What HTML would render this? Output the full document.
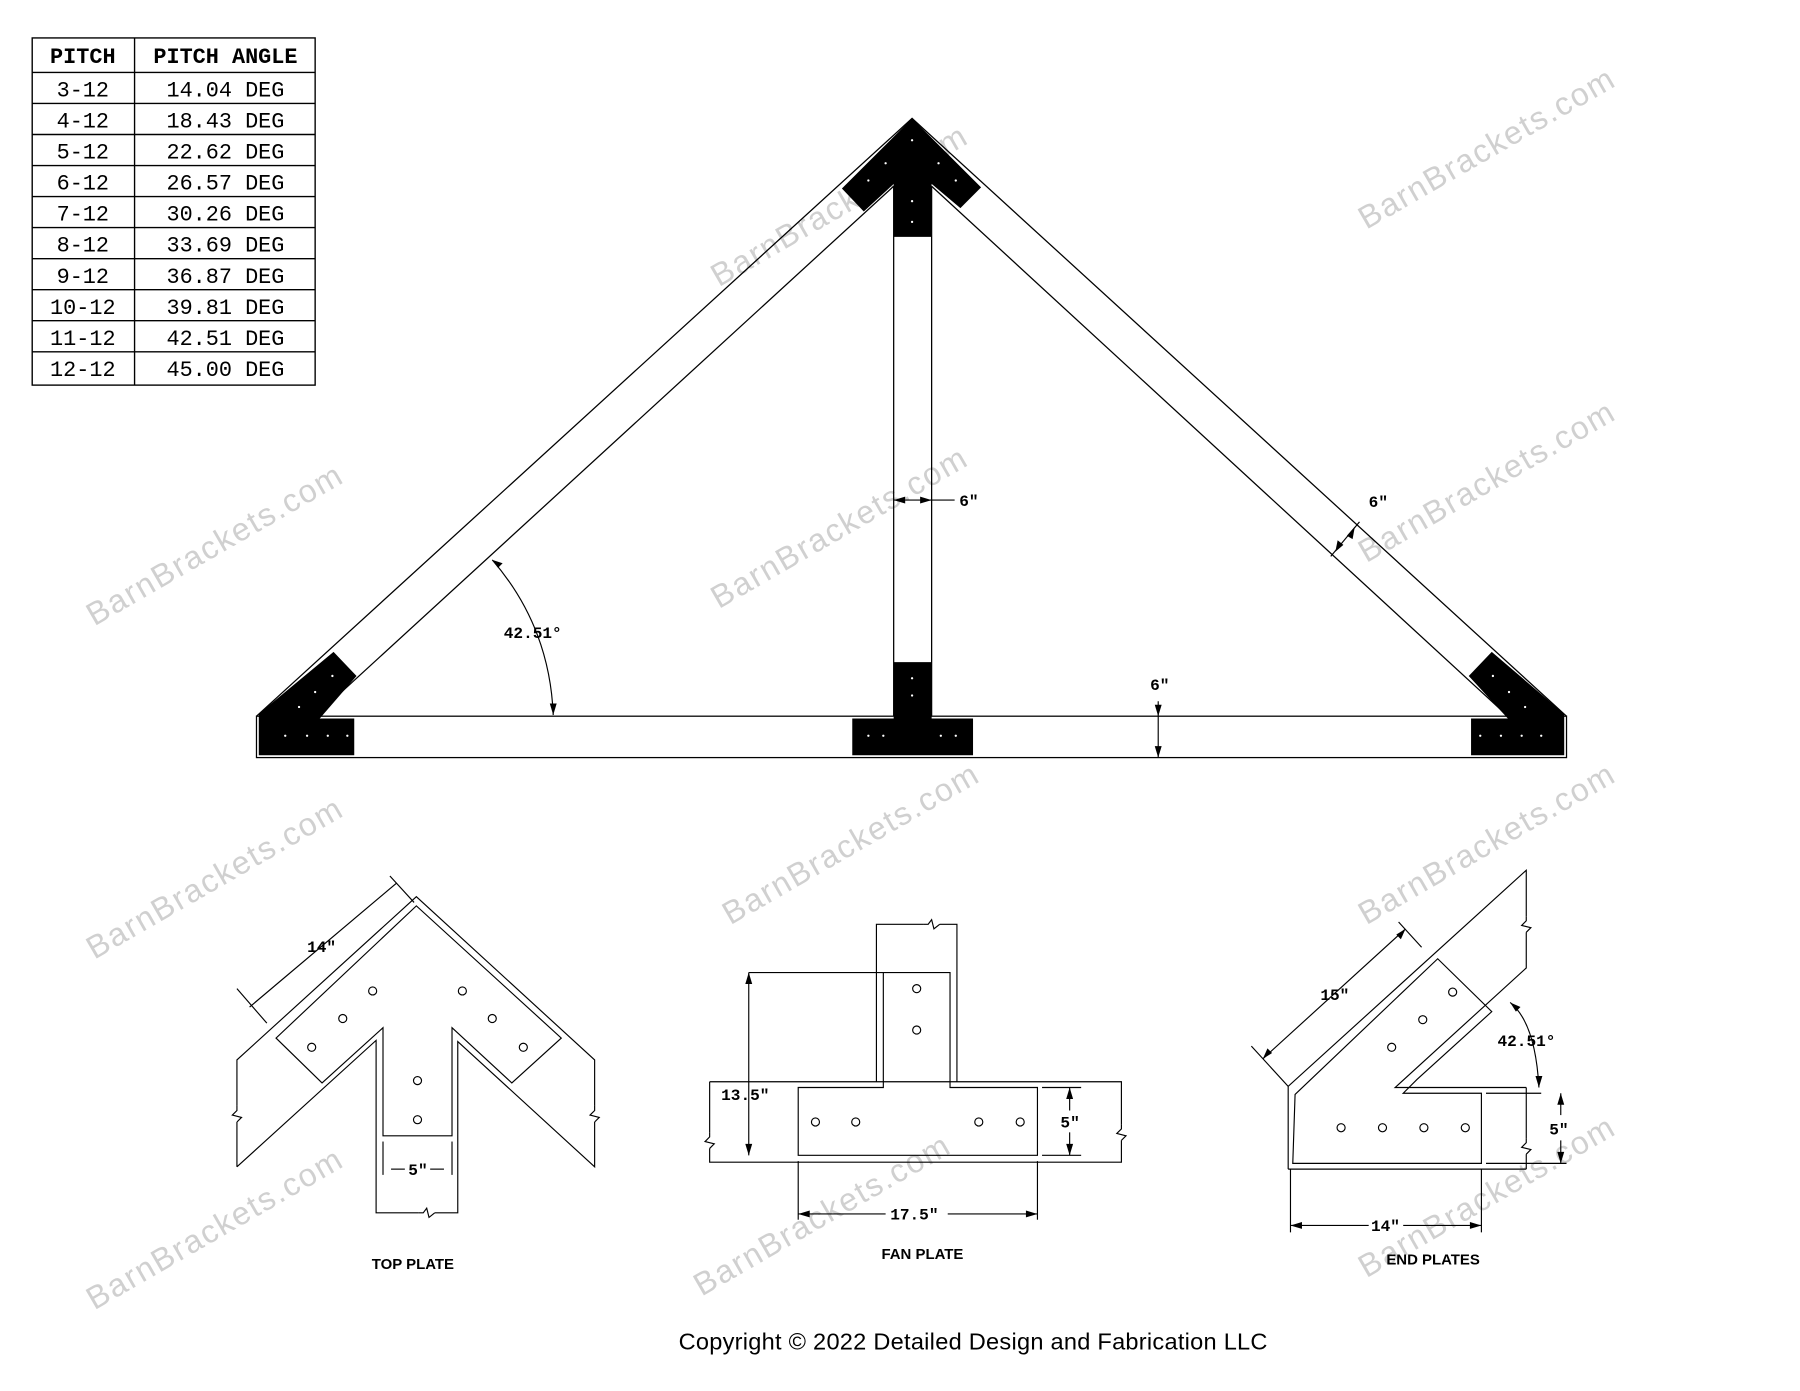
<!DOCTYPE html>
<html><head><meta charset="utf-8"><style>
html,body{margin:0;padding:0;background:#fff;width:1800px;height:1391px;overflow:hidden}
svg{display:block}
.t{font-family:"Liberation Sans",sans-serif;font-weight:bold;fill:#000}
.m{font-family:"Liberation Mono",monospace;fill:#000}
.w{font-family:"Liberation Sans",sans-serif;font-size:28px;fill:#d0d0d0;letter-spacing:1.5px}
</style></head><body>
<svg width="1800" height="1391" viewBox="0 0 1565 1210" preserveAspectRatio="none" xmlns="http://www.w3.org/2000/svg">
<rect width="1565" height="1210" fill="#fff"/>
<!-- watermarks -->
<g class="w">
<text transform="translate(82,545) rotate(-30)">BarnBrackets.com</text>
<text transform="translate(625,250) rotate(-30)">BarnBrackets.com</text>
<text transform="translate(1188,200) rotate(-30)">BarnBrackets.com</text>
<text transform="translate(625,530) rotate(-30)">BarnBrackets.com</text>
<text transform="translate(1188,490) rotate(-30)">BarnBrackets.com</text>
<text transform="translate(82,835) rotate(-30)">BarnBrackets.com</text>
<text transform="translate(635,805) rotate(-30)">BarnBrackets.com</text>
<text transform="translate(1188,805) rotate(-30)">BarnBrackets.com</text>
<text transform="translate(82,1140) rotate(-30)">BarnBrackets.com</text>
<text transform="translate(610,1128) rotate(-30)">BarnBrackets.com</text>
<text transform="translate(1188,1112) rotate(-30)">BarnBrackets.com</text>
</g>
<!-- table -->
<g stroke="#000" stroke-width="1.2" fill="none">
<rect x="28" y="33" width="246" height="302"/>
<line x1="117" y1="33" x2="117" y2="335"/>
<line x1="28" y1="63" x2="274" y2="63"/>
<line x1="28" y1="90" x2="274" y2="90"/><line x1="28" y1="117" x2="274" y2="117"/>
<line x1="28" y1="144" x2="274" y2="144"/><line x1="28" y1="171" x2="274" y2="171"/>
<line x1="28" y1="198" x2="274" y2="198"/><line x1="28" y1="225" x2="274" y2="225"/>
<line x1="28" y1="252" x2="274" y2="252"/><line x1="28" y1="279" x2="274" y2="279"/>
<line x1="28" y1="306" x2="274" y2="306"/>
</g>
<g class="m" font-size="19" text-anchor="middle">
<text x="72" y="55" font-weight="bold">PITCH</text><text x="196" y="55" font-weight="bold">PITCH ANGLE</text>
<text x="72" y="84">3-12</text><text x="196" y="84">14.04 DEG</text>
<text x="72" y="111">4-12</text><text x="196" y="111">18.43 DEG</text>
<text x="72" y="138">5-12</text><text x="196" y="138">22.62 DEG</text>
<text x="72" y="165">6-12</text><text x="196" y="165">26.57 DEG</text>
<text x="72" y="192">7-12</text><text x="196" y="192">30.26 DEG</text>
<text x="72" y="219">8-12</text><text x="196" y="219">33.69 DEG</text>
<text x="72" y="246">9-12</text><text x="196" y="246">36.87 DEG</text>
<text x="72" y="273">10-12</text><text x="196" y="273">39.81 DEG</text>
<text x="72" y="300">11-12</text><text x="196" y="300">42.51 DEG</text>
<text x="72" y="327">12-12</text><text x="196" y="327">45.00 DEG</text>
</g>
<!-- main truss -->
<g stroke="#000" stroke-width="1.1" fill="none">
<polyline points="223,623 793,103 1362,623"/>
<polyline points="274,623 777,162"/>
<polyline points="1311,623 810,162"/>
<line x1="777" y1="162" x2="777" y2="623"/>
<line x1="810" y1="162" x2="810" y2="623"/>
<rect x="223" y="623" width="1139" height="36"/>
</g>
<g fill="#000">
<polygon points="793,103 853,163 835,181 810,160 810,206 777,206 777,160 751,184 732,164"/>
<polygon points="225,621 290,567 310,588 278,625 308,625 308,657 225,657"/>
<polygon points="1360,621 1297,567 1277,588 1311,625 1279,625 1279,657 1360,657"/>
<polygon points="777,576 810,576 810,625 846,625 846,657 741,657 741,625 777,625"/>
</g>
<g fill="#fff">
<circle cx="793" cy="122" r="1"/><circle cx="770" cy="142" r="1"/><circle cx="755" cy="157" r="1"/><circle cx="816" cy="142" r="1"/><circle cx="831" cy="157" r="1"/><circle cx="793" cy="175" r="1"/><circle cx="793" cy="193" r="1"/>
<circle cx="289" cy="588" r="1"/><circle cx="274" cy="602" r="1"/><circle cx="260" cy="615" r="1"/><circle cx="248" cy="640" r="1"/><circle cx="267" cy="640" r="1"/><circle cx="285" cy="640" r="1"/><circle cx="302" cy="640" r="1"/>
<circle cx="1298" cy="588" r="1"/><circle cx="1312" cy="602" r="1"/><circle cx="1326" cy="615" r="1"/><circle cx="1287" cy="640" r="1"/><circle cx="1305" cy="640" r="1"/><circle cx="1323" cy="640" r="1"/><circle cx="1340" cy="640" r="1"/>
<circle cx="793" cy="590" r="1"/><circle cx="793" cy="605" r="1"/><circle cx="755" cy="640" r="1"/><circle cx="768" cy="640" r="1"/><circle cx="818" cy="640" r="1"/><circle cx="831" cy="640" r="1"/>
</g>
<!-- main dims -->
<g stroke="#000" stroke-width="1" fill="none">
<line x1="777" y1="435" x2="830" y2="435"/>
<line x1="1157" y1="484" x2="1182" y2="454"/>
<path d="M428,487 Q478,545 481,622"/>
<line x1="1007" y1="610" x2="1007" y2="659"/>
</g>
<g fill="#000">
<polygon points="810,435 800,432 800,438"/><polygon points="777,435 787,432 787,438"/>
<polygon points="428,487 437,490 433,494"/><polygon points="481,622 478,612 484,612"/>
<polygon points="1007,623 1004,613 1010,613"/><polygon points="1007,659 1004,649 1010,649"/>
<polygon points="1161,480 1163,470 1168,474"/><polygon points="1178,458 1171,466 1176,469"/>
</g>
<g class="m" font-size="14" font-weight="bold">
<text x="834" y="440">6″</text>
<text x="1190" y="441">6″</text>
<text x="438" y="555">42.51°</text>
<text x="1000" y="600">6″</text>
</g>
<!-- TOP PLATE -->
<g stroke="#000" stroke-width="1" fill="none">
<polyline points="206,1015 206,922 362,780 517,922 517,1015 398,906 398,1055 327,1055 327,905 206,1015"/>
<polygon points="362,788 488,903 445,942 393,894 393,988 333,988 333,894 280,942 240,903"/>
<polyline points="217,876 345,768"/>
<line x1="206" y1="860" x2="232" y2="890"/>
<line x1="339" y1="762" x2="360" y2="785"/>
<line x1="333" y1="993" x2="333" y2="1022"/><line x1="393" y1="993" x2="393" y2="1022"/>
<line x1="340" y1="1017" x2="352" y2="1017"/><line x1="374" y1="1017" x2="386" y2="1017"/>
<circle cx="324" cy="862" r="3.5"/><circle cx="402" cy="862" r="3.5"/><circle cx="298" cy="886" r="3.5"/><circle cx="428" cy="886" r="3.5"/><circle cx="271" cy="911" r="3.5"/><circle cx="455" cy="911" r="3.5"/><circle cx="363" cy="940" r="3.5"/><circle cx="363" cy="974" r="3.5"/>
</g>
<g fill="#fff"><rect x="200" y="962" width="12" height="14"/><rect x="511" y="962" width="12" height="14"/><rect x="364" y="1049" width="14" height="12"/></g>
<g stroke="#000" stroke-width="1" fill="none">
<polyline points="206,962 206,966 202,970 210,972 206,976"/>
<polyline points="517,962 517,966 513,970 521,972 517,976"/>
<polyline points="364,1055 368,1055 371,1051 373,1059 378,1055"/>
</g>
<g class="m" font-size="14" font-weight="bold">
<text transform="translate(267,828)">14″</text>
<text x="355" y="1022">5″</text>
</g>
<text class="t" x="359" y="1104" font-size="13" text-anchor="middle">TOP  PLATE</text>
<!-- FAN PLATE -->
<g stroke="#000" stroke-width="1" fill="none">
<polyline points="762,941 762,804 832,804 832,941"/>
<polyline points="617,941 975,941 975,1011 617,1011 617,941"/>
<polygon points="768,846 826,846 826,946 902,946 902,1005 694,1005 694,946 768,946"/>
<line x1="651" y1="846" x2="768" y2="846"/>
<line x1="651" y1="846" x2="651" y2="1005"/>
<line x1="906" y1="946" x2="940" y2="946"/><line x1="906" y1="1005" x2="940" y2="1005"/>
<line x1="930" y1="946" x2="930" y2="966"/><line x1="930" y1="985" x2="930" y2="1005"/>
<line x1="694" y1="1010" x2="694" y2="1061"/><line x1="902" y1="1010" x2="902" y2="1061"/>
<line x1="694" y1="1056" x2="770" y2="1056"/><line x1="824" y1="1056" x2="902" y2="1056"/>
<circle cx="797" cy="860" r="3.5"/><circle cx="797" cy="896" r="3.5"/><circle cx="709" cy="976" r="3.5"/><circle cx="744" cy="976" r="3.5"/><circle cx="851" cy="976" r="3.5"/><circle cx="887" cy="976" r="3.5"/>
</g>
<g fill="#fff"><rect x="803" y="798" width="14" height="12"/><rect x="611" y="985" width="12" height="14"/><rect x="969" y="978" width="12" height="14"/></g>
<g stroke="#000" stroke-width="1" fill="none">
<polyline points="803,804 807,804 810,800 812,808 817,804"/>
<polyline points="617,985 617,989 613,993 621,995 617,999"/>
<polyline points="975,978 975,982 971,986 979,988 975,992"/>
</g>
<g fill="#000">
<polygon points="651,846 648,856 654,856"/><polygon points="651,1005 648,995 654,995"/>
<polygon points="930,946 927,956 933,956"/><polygon points="930,1005 927,995 933,995"/>
<polygon points="694,1056 704,1053 704,1059"/><polygon points="902,1056 892,1053 892,1059"/>
</g>
<g class="m" font-size="14" font-weight="bold">
<text x="627" y="957">13.5″</text>
<text x="922" y="981">5″</text>
<text x="774" y="1061">17.5″</text>
</g>
<text class="t" x="802" y="1095" font-size="13" text-anchor="middle">FAN  PLATE</text>
<!-- END PLATES -->
<g stroke="#000" stroke-width="1" fill="none">
<polyline points="1120,1017 1120,945 1327,757 1327,842 1213,946 1327,946"/>
<line x1="1120" y1="1017" x2="1327" y2="1017"/>
<line x1="1327" y1="946" x2="1327" y2="1017"/>
<polygon points="1126,952 1250,834 1297,880 1232,939 1220,951 1288,951 1288,1012 1124,1012"/>
<line x1="1292" y1="951" x2="1340" y2="951"/><line x1="1292" y1="1012" x2="1362" y2="1012"/>
<line x1="1357" y1="951" x2="1357" y2="970"/><line x1="1357" y1="992" x2="1357" y2="1012"/>
<line x1="1098" y1="921" x2="1222" y2="808"/>
<line x1="1088" y1="910" x2="1120" y2="945"/><line x1="1216" y1="802" x2="1236" y2="824"/>
<path d="M1313,872 Q1335,890 1338,946"/>
<line x1="1122" y1="1017" x2="1122" y2="1072"/><line x1="1288" y1="1017" x2="1288" y2="1072"/>
<line x1="1122" y1="1066" x2="1190" y2="1066"/><line x1="1220" y1="1066" x2="1288" y2="1066"/>
<circle cx="1263" cy="863" r="3.5"/><circle cx="1237" cy="887" r="3.5"/><circle cx="1210" cy="911" r="3.5"/><circle cx="1166" cy="981" r="3.5"/><circle cx="1202" cy="981" r="3.5"/><circle cx="1238" cy="981" r="3.5"/><circle cx="1274" cy="981" r="3.5"/>
</g>
<g fill="#fff"><rect x="1321" y="797" width="12" height="14"/><rect x="1321" y="990" width="12" height="14"/></g>
<g stroke="#000" stroke-width="1" fill="none">
<polyline points="1327,797 1327,801 1323,805 1331,807 1327,811"/>
<polyline points="1327,990 1327,994 1323,998 1331,1000 1327,1004"/>
</g>
<g fill="#000">
<polygon points="1357,951 1354,961 1360,961"/><polygon points="1357,1012 1354,1002 1360,1002"/>
<polygon points="1122,1066 1132,1063 1132,1069"/><polygon points="1288,1066 1278,1063 1278,1069"/>
<polygon points="1313,872 1322,876 1318,880"/><polygon points="1338,946 1335,936 1341,936"/>
<polygon points="1098,921 1102,912 1106,916"/><polygon points="1222,808 1218,817 1214,813"/>
</g>
<g class="m" font-size="14" font-weight="bold">
<text x="1148" y="870">15″</text>
<text x="1302" y="910">42.51°</text>
<text x="1347" y="987">5″</text>
<text x="1192" y="1071">14″</text>
</g>
<text class="t" x="1246" y="1100" font-size="13" text-anchor="middle">END  PLATES</text>
<text x="846" y="1174" font-family="'Liberation Sans',sans-serif" font-size="20.5" text-anchor="middle" fill="#000" textLength="512">Copyright © 2022 Detailed Design and Fabrication LLC</text>
</svg>
</body></html>
